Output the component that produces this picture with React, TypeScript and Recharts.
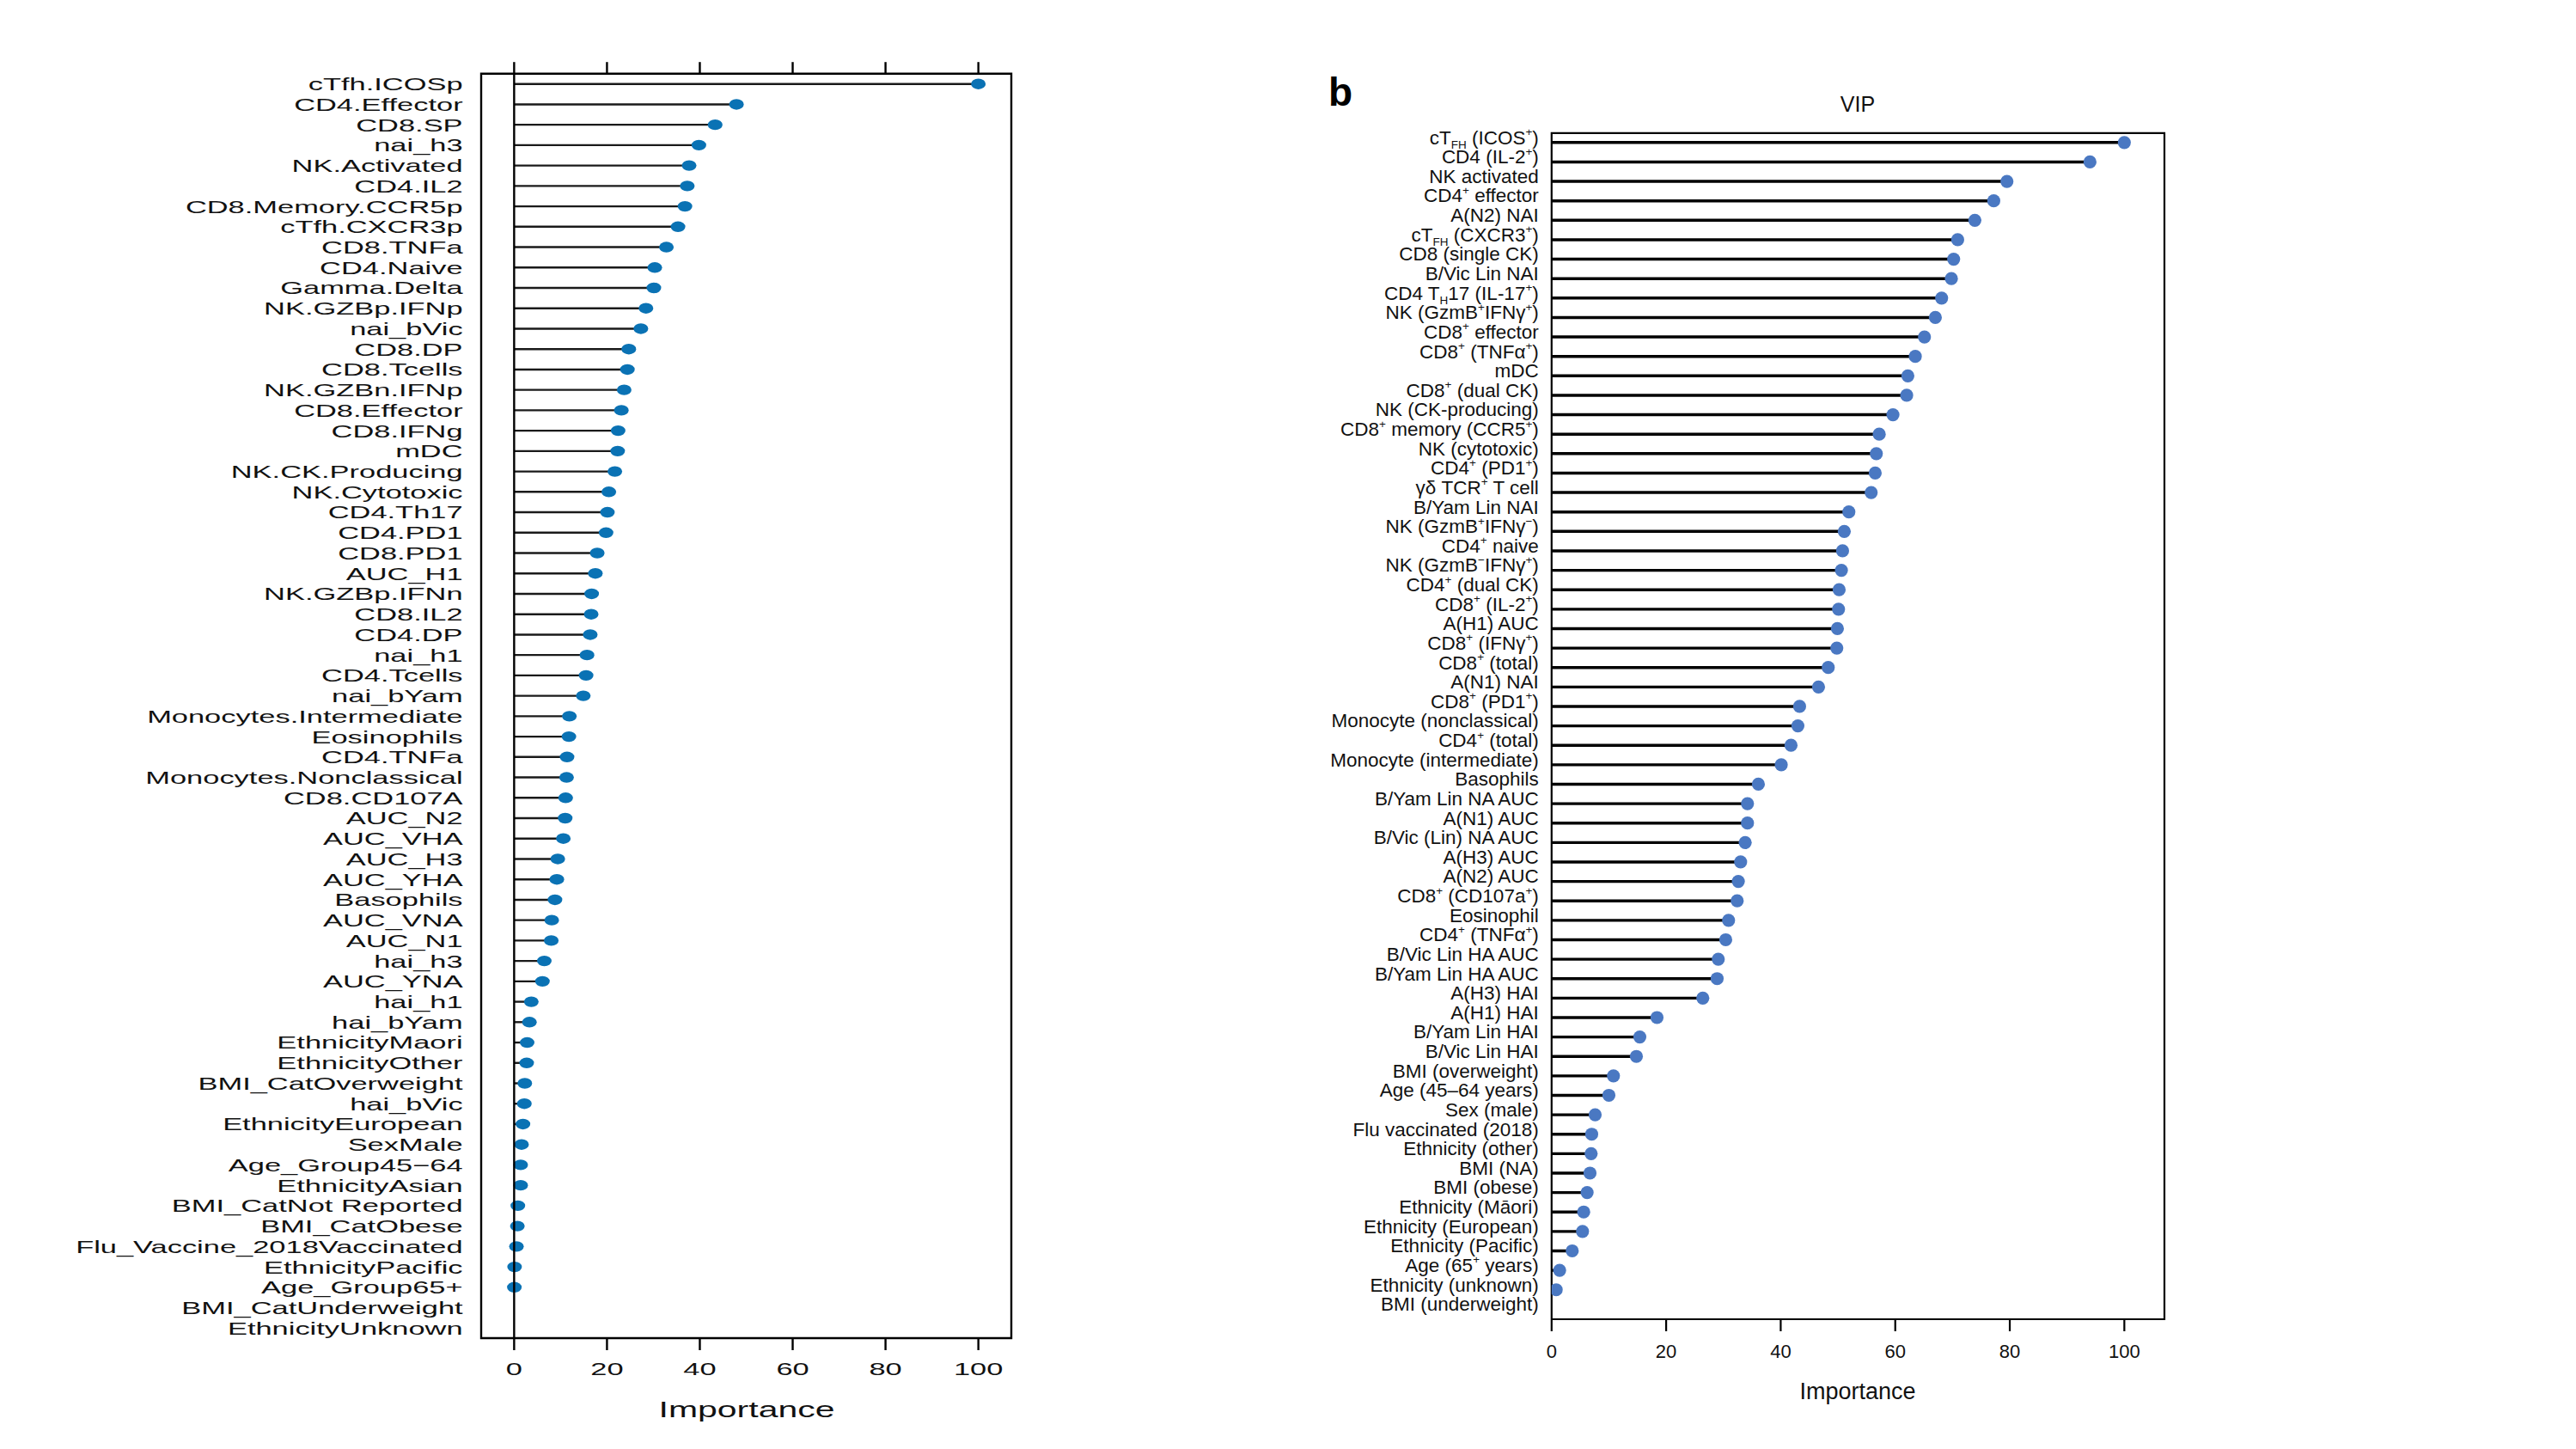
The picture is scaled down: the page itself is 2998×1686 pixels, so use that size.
import React from 'react';
import {
  ComposedChart,
  Bar,
  XAxis,
  YAxis,
  ReferenceLine,
  ReferenceArea,
} from 'recharts';

// panel a: random forest importance (lattice dotplot)
const leftNames = [
  'cTfh.ICOSp', 'CD4.Effector', 'CD8.SP', 'nai_h3', 'NK.Activated', 'CD4.IL2',
  'CD8.Memory.CCR5p', 'cTfh.CXCR3p', 'CD8.TNFa', 'CD4.Naive', 'Gamma.Delta',
  'NK.GZBp.IFNp', 'nai_bVic', 'CD8.DP', 'CD8.Tcells', 'NK.GZBn.IFNp', 'CD8.Effector',
  'CD8.IFNg', 'mDC', 'NK.CK.Producing', 'NK.Cytotoxic', 'CD4.Th17', 'CD4.PD1',
  'CD8.PD1', 'AUC_H1', 'NK.GZBp.IFNn', 'CD8.IL2', 'CD4.DP', 'nai_h1', 'CD4.Tcells',
  'nai_bYam', 'Monocytes.Intermediate', 'Eosinophils', 'CD4.TNFa',
  'Monocytes.Nonclassical', 'CD8.CD107A', 'AUC_N2', 'AUC_VHA', 'AUC_H3', 'AUC_YHA',
  'Basophils', 'AUC_VNA', 'AUC_N1', 'hai_h3', 'AUC_YNA', 'hai_h1', 'hai_bYam',
  'EthnicityMaori', 'EthnicityOther', 'BMI_CatOverweight', 'hai_bVic',
  'EthnicityEuropean', 'SexMale', 'Age_Group45\u221264', 'EthnicityAsian',
  'BMI_CatNot Reported', 'BMI_CatObese', 'Flu_Vaccine_2018Vaccinated',
  'EthnicityPacific', 'Age_Group65+', 'BMI_CatUnderweight', 'EthnicityUnknown',
];

const leftValues: (number | null)[] = [
  100, 47.9, 43.3, 39.8, 37.7, 37.3, 36.8, 35.3, 32.8, 30.3, 30.1, 28.4, 27.3,
  24.7, 24.4, 23.7, 23.1, 22.4, 22.3, 21.7, 20.4, 20.1, 19.8, 17.9, 17.5, 16.7,
  16.6, 16.4, 15.7, 15.5, 14.9, 11.9, 11.8, 11.4, 11.3, 11.1, 11.0, 10.6, 9.4,
  9.2, 8.8, 8.1, 8.0, 6.5, 6.1, 3.7, 3.3, 2.8, 2.7, 2.3, 2.2, 1.9, 1.6, 1.4, 1.4,
  0.8, 0.7, 0.5, 0.1, 0.05, null, null,
];

// panel b: VIP scores
const rightNames = [
  'cT_{FH} (ICOS^{+})', 'CD4 (IL-2^{+})', 'NK activated', 'CD4^{+} effector',
  'A(N2) NAI', 'cT_{FH} (CXCR3^{+})', 'CD8 (single CK)', 'B/Vic Lin NAI',
  'CD4 T_{H}17 (IL-17^{+})', 'NK (GzmB^{+}IFN\u03b3^{+})', 'CD8^{+} effector',
  'CD8^{+} (TNF\u03b1^{+})', 'mDC', 'CD8^{+} (dual CK)', 'NK (CK-producing)',
  'CD8^{+} memory (CCR5^{+})', 'NK (cytotoxic)', 'CD4^{+} (PD1^{+})',
  '\u03b3\u03b4 TCR^{+} T cell', 'B/Yam Lin NAI', 'NK (GzmB^{+}IFN\u03b3^{\u2212})',
  'CD4^{+} naive', 'NK (GzmB^{\u2212}IFN\u03b3^{+})', 'CD4^{+} (dual CK)',
  'CD8^{+} (IL-2^{+})', 'A(H1) AUC', 'CD8^{+} (IFN\u03b3^{+})', 'CD8^{+} (total)',
  'A(N1) NAI', 'CD8^{+} (PD1^{+})', 'Monocyte (nonclassical)', 'CD4^{+} (total)',
  'Monocyte (intermediate)', 'Basophils', 'B/Yam Lin NA AUC', 'A(N1) AUC',
  'B/Vic (Lin) NA AUC', 'A(H3) AUC', 'A(N2) AUC', 'CD8^{+} (CD107a^{+})',
  'Eosinophil', 'CD4^{+} (TNF\u03b1^{+})', 'B/Vic Lin HA AUC', 'B/Yam Lin HA AUC',
  'A(H3) HAI', 'A(H1) HAI', 'B/Yam Lin HAI', 'B/Vic Lin HAI', 'BMI (overweight)',
  'Age (45\u201364 years)', 'Sex (male)', 'Flu vaccinated (2018)', 'Ethnicity (other)',
  'BMI (NA)', 'BMI (obese)', 'Ethnicity (M\u0101ori)', 'Ethnicity (European)',
  'Ethnicity (Pacific)', 'Age (65^{+} years)', 'Ethnicity (unknown)', 'BMI (underweight)',
];

const rightValues: (number | null)[] = [
  100, 94.0, 79.5, 77.2, 73.9, 70.9, 70.2, 69.8, 68.1, 67.0, 65.1, 63.5, 62.2,
  62.0, 59.6, 57.2, 56.7, 56.5, 55.8, 51.9, 51.1, 50.8, 50.6, 50.2, 50.1, 49.9,
  49.8, 48.3, 46.6, 43.3, 43.0, 41.8, 40.1, 36.1, 34.2, 34.2, 33.8, 33.0, 32.6,
  32.4, 30.9, 30.4, 29.1, 28.9, 26.4, 18.4, 15.4, 14.8, 10.8, 10.0, 7.6, 7.0,
  6.9, 6.7, 6.2, 5.6, 5.4, 3.6, 1.4, 0.8, null,
];

const xTicks = [0, 20, 40, 60, 80, 100];

const FONT = "'Liberation Sans', Arial, Helvetica, sans-serif";
const LEFT_STRETCH = 1.64;
const LEFT_BLUE = '#0a72b4';
const RIGHT_BLUE = '#4a78c2';
const RIGHT_LABEL_SIZE = 22.5;

const leftData = leftNames.map((name, i) => ({ name, value: leftValues[i] }));
const rightData = rightNames.map((name, i) => ({ name, value: rightValues[i] }));

// label markup: ^{..} superscript, _{..} subscript
function richText(label: string, size: number) {
  const parts = label.split(/(\^\{[^}]*\}|_\{[^}]*\})/).filter(Boolean);
  let offset = 0;
  return parts.map((p, i) => {
    let target = 0;
    let text = p;
    let fs = size;
    if (p.startsWith('^{')) {
      target = -0.42 * size;
      text = p.slice(2, -1);
      fs = size * 0.6;
    } else if (p.startsWith('_{')) {
      target = 0.22 * size;
      text = p.slice(2, -1);
      fs = size * 0.6;
    }
    const dy = target - offset;
    offset = target;
    return (
      <tspan key={i} dy={dy} fontSize={fs}>
        {text}
      </tspan>
    );
  });
}

const EmptyTick = () => <g />;

const LeftYTick = (props: any) => {
  const { x, y, payload } = props;
  return (
    <g transform={`translate(${x},${y}) scale(${LEFT_STRETCH},1)`}>
      <text textAnchor="end" dy="0.36em" fontSize={21} fill="#111" fontFamily={FONT}>
        {payload.value}
      </text>
    </g>
  );
};

const LeftXTick = (props: any) => {
  const { x, y, payload } = props;
  return (
    <g transform={`translate(${x},${y}) scale(${LEFT_STRETCH},1)`}>
      <text textAnchor="middle" dy="0.71em" fontSize={21} fill="#111" fontFamily={FONT}>
        {payload.value}
      </text>
    </g>
  );
};

const RightYTick = (props: any) => {
  const { x, y, payload } = props;
  return (
    <text x={x} y={y + 1.5} textAnchor="end" dy="0.36em" fontSize={RIGHT_LABEL_SIZE} fill="#111" fontFamily={FONT}>
      {richText(payload.value, RIGHT_LABEL_SIZE)}
    </text>
  );
};

const RightXTick = (props: any) => {
  const { x, y, payload } = props;
  return (
    <text x={x} y={y} textAnchor="middle" dy="0.71em" fontSize={22} fill="#111" fontFamily={FONT}>
      {payload.value}
    </text>
  );
};

const AxisTitle = (props: any) => {
  const { cx, cy, size, stretch } = props;
  return (
    <g transform={`translate(${cx},${cy}) scale(${stretch},1)`}>
      <text textAnchor="middle" dy="0.36em" fontSize={size} fill="#111" fontFamily={FONT}>
        Importance
      </text>
    </g>
  );
};

const makeLollipop = (stem: string, stemWidth: number, dot: string, rx: number, ry: number) =>
  (props: any) => {
    const { x, y, width, height, payload } = props;
    if (!payload || payload.value == null) return <g />;
    const cy = y + height / 2;
    const end = x + width;
    return (
      <g>
        <line x1={x} y1={cy} x2={end} y2={cy} stroke={stem} strokeWidth={stemWidth} />
        <ellipse cx={end} cy={cy} rx={rx} ry={ry} fill={dot} />
      </g>
    );
  };

const leftShape = makeLollipop('#1a1a1a', 2.4, LEFT_BLUE, 8.5, 6.2);
const rightShape = makeLollipop('#000', 3.4, RIGHT_BLUE, 7.6, 7.6);

export default function App() {
  return (
    <div
      style={{
        position: 'absolute',
        left: 0,
        top: 0,
        width: 2998,
        height: 1686,
        background: '#fff',
        overflow: 'hidden',
      }}
    >
      {/* a: importance dotplot */}
      <div style={{ position: 'absolute', left: 0, top: 0 }}>
        <ComposedChart
          width={1250}
          height={1686}
          layout="vertical"
          data={leftData}
          margin={{ top: 45.7, right: 73, bottom: 29, left: 0 }}
        >
          <XAxis
            type="number"
            domain={[-7.1, 107.1]}
            allowDataOverflow
            ticks={xTicks}
            height={100}
            axisLine={false}
            tickSize={14}
            tickMargin={14.5}
            tickLine={{ stroke: '#000', strokeWidth: 2.4 }}
            tick={<LeftXTick />}
            label={<AxisTitle cx={869} cy={1640} size={25} stretch={LEFT_STRETCH} />}
          />
          <XAxis
            xAxisId="top"
            orientation="top"
            type="number"
            domain={[-7.1, 107.1]}
            allowDataOverflow
            ticks={xTicks}
            height={40}
            axisLine={false}
            tickSize={13.5}
            tickLine={{ stroke: '#000', strokeWidth: 2.4 }}
            tick={<EmptyTick />}
          />
          <YAxis
            type="category"
            dataKey="name"
            width={560}
            interval={0}
            axisLine={false}
            tickLine={false}
            tickSize={0}
            tickMargin={21.4}
            tick={<LeftYTick />}
          />
          <ReferenceArea x1={-7.1} x2={107.1} fill="none" fillOpacity={0} stroke="#000" strokeWidth={2.4} />
          <ReferenceLine x={0} stroke="#000" strokeWidth={2.4} />
          <Bar dataKey="value" barSize={4} shape={leftShape} isAnimationActive={false} />
        </ComposedChart>
      </div>

      {/* b: VIP */}
      <div
        style={{
          position: 'absolute',
          left: 1546,
          top: 84,
          fontFamily: FONT,
          fontWeight: 'bold',
          fontSize: 46,
          lineHeight: '46px',
          color: '#000',
        }}
      >
        b
      </div>
      <div
        style={{
          position: 'absolute',
          left: 2062,
          top: 106,
          width: 200,
          textAlign: 'center',
          fontFamily: FONT,
          fontSize: 25,
          lineHeight: '30px',
          color: '#111',
        }}
      >
        VIP
      </div>
      <div style={{ position: 'absolute', left: 1500, top: 0 }}>
        <ComposedChart
          width={1075}
          height={1686}
          layout="vertical"
          data={rightData}
          margin={{ top: 152.3, right: 56, bottom: 30, left: 0 }}
        >
          <XAxis
            type="number"
            domain={[0, 107]}
            allowDataOverflow
            ticks={xTicks}
            height={120}
            axisLine={false}
            tickSize={13}
            tickMargin={15.8}
            tickLine={{ stroke: '#000', strokeWidth: 2.2 }}
            tick={<RightXTick />}
            label={<AxisTitle cx={662} cy={1618} size={27} stretch={1} />}
          />
          <YAxis
            type="category"
            dataKey="name"
            width={305.8}
            interval={0}
            padding={{ top: 2.5, bottom: 1 }}
            axisLine={false}
            tickLine={false}
            tickSize={0}
            tickMargin={15}
            tick={<RightYTick />}
          />
          <ReferenceArea x1={0} x2={107} fill="none" fillOpacity={0} stroke="#000" strokeWidth={2.2} />
          <Bar dataKey="value" barSize={4} shape={rightShape} isAnimationActive={false} />
        </ComposedChart>
      </div>
    </div>
  );
}
